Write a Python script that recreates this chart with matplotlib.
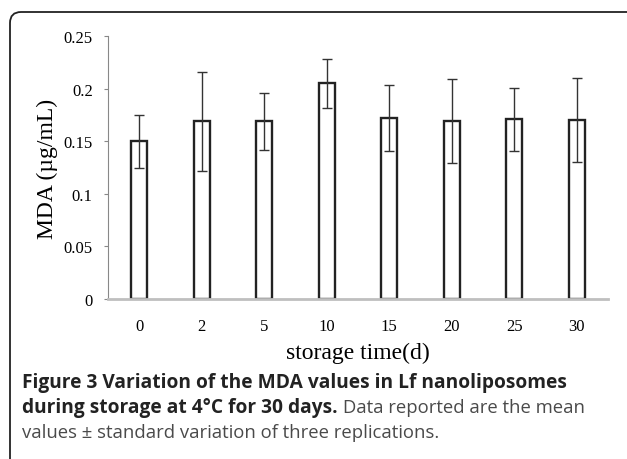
import matplotlib
matplotlib.use("Agg")
import matplotlib.pyplot as plt
from matplotlib.patches import FancyBboxPatch

days = ["0", "2", "5", "10", "15", "20", "25", "30"]
mda = [0.150, 0.169, 0.169, 0.205, 0.172, 0.169, 0.171, 0.170]
err = [0.025, 0.047, 0.027, 0.023, 0.031, 0.040, 0.030, 0.040]
yticks = [0, 0.05, 0.1, 0.15, 0.2, 0.25]
ytick_labels = ["0", "0.05", "0.1", "0.15", "0.2", "0.25"]

W, H = 627, 460
fig = plt.figure(figsize=(W / 100, H / 100), dpi=100)

# rounded frame (open at right / bottom), in inches
frame = FancyBboxPatch((0.10, -0.5), (650 - 10) / 100, (460 - 13) / 100 + 0.5,
                       boxstyle="round,pad=0,rounding_size=0.11",
                       transform=fig.dpi_scale_trans, fill=False,
                       edgecolor="#222222", linewidth=1.3, clip_on=False)
fig.patches.append(frame)

ax = fig.add_axes([108 / W, 1 - 300 / H, (608 - 108) / W, (300 - 37) / H])
x = list(range(len(days)))
ax.bar(x, mda, width=0.25, color="white", edgecolor="#222222", linewidth=1.7, zorder=2)
ax.errorbar(x, mda, yerr=err, fmt="none", ecolor="#333333", elinewidth=1.0,
            capsize=3.5, capthick=1.0, zorder=3)

ax.set_xlim(-0.5, len(days) - 0.5)
ax.set_ylim(0, 0.25)
ax.set_yticks(yticks)
ax.set_yticklabels(ytick_labels, fontfamily="Liberation Serif", fontsize=12)
ax.set_xticks(x)
ax.set_xticklabels(days, fontfamily="Liberation Serif", fontsize=12)
ax.tick_params(axis="x", length=0, pad=14)
ax.tick_params(axis="y", length=3, color="#888888", width=0.8, pad=8)
for s in ["top", "right"]:
    ax.spines[s].set_visible(False)
ax.spines["left"].set_color("#888888")
ax.spines["left"].set_linewidth(0.8)
ax.spines["bottom"].set_color("#bfbfbf")
ax.spines["bottom"].set_linewidth(2.0)
ax.set_ylabel("MDA (µg/mL)", fontfamily="Liberation Serif", fontsize=17, labelpad=4)
ax.set_xlabel("storage time(d)", fontfamily="Liberation Serif", fontsize=17, labelpad=5)

# caption
cap_x = 22 / W
fs_b = 13.8
fs_r = 13.3
fig.canvas.draw()
r = fig.canvas.get_renderer()
fig.text(cap_x, 1 - 383 / H, "Figure 3 Variation of the MDA values in Lf nanoliposomes",
         fontfamily="Open Sans", fontweight="bold", fontsize=fs_b, va="center", color="#222222")
t2 = fig.text(cap_x, 1 - 408 / H, "during storage at 4°C for 30 days.",
              fontfamily="Open Sans", fontweight="bold", fontsize=fs_b, va="center", color="#222222")
bb = t2.get_window_extent(renderer=r)
fig.text(bb.x1 / W + 5 / W, 1 - 408 / H, "Data reported are the mean",
         fontfamily="Open Sans", fontsize=fs_r, va="center", color="#4a4a4a")
fig.text(cap_x, 1 - 433 / H, "values ± standard variation of three replications.",
         fontfamily="Open Sans", fontsize=fs_r, va="center", color="#4a4a4a")

fig.savefig("out.png", dpi=100)
